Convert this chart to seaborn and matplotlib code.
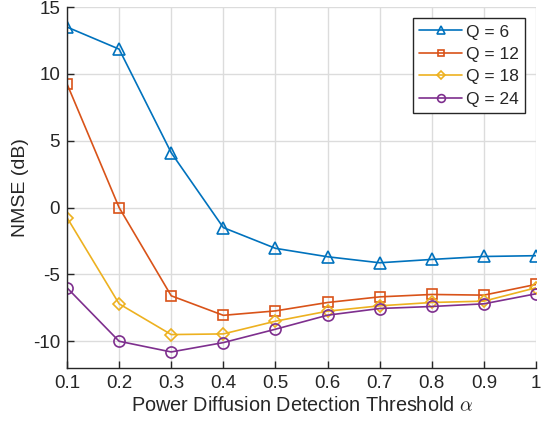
import matplotlib
matplotlib.use("Agg")
import matplotlib.pyplot as plt
import seaborn as sns
import pandas as pd

alpha = [0.1, 0.2, 0.3, 0.4, 0.5, 0.6, 0.7, 0.8, 0.9, 1.0]
q6 = [13.5, 11.85, 4.1, -1.5, -3.05, -3.68, -4.13, -3.88, -3.66, -3.6]
q12 = [9.25, 0.0, -6.6, -8.06, -7.73, -7.1, -6.68, -6.5, -6.55, -5.75]
q18 = [-0.75, -7.2, -9.5, -9.45, -8.5, -7.75, -7.35, -7.1, -7.0, -6.0]
q24 = [-6.0, -10.0, -10.8, -10.1, -9.1, -8.05, -7.55, -7.4, -7.2, -6.45]
labels = ["Q = 6", "Q = 12", "Q = 18", "Q = 24"]
colors = ["#0072BD", "#D95319", "#EDB120", "#7E2F8E"]
markers = ["^", "s", "D", "o"]
xticks = [0.1, 0.2, 0.3, 0.4, 0.5, 0.6, 0.7, 0.8, 0.9, 1.0]
xticklabels = ["0.1", "0.2", "0.3", "0.4", "0.5", "0.6", "0.7", "0.8", "0.9", "1"]
yticks = [-10, -5, 0, 5, 10, 15]

sns.set_theme(style="white")
plt.rcParams['font.family'] = ['Liberation Sans', 'DejaVu Sans']
plt.rcParams['mathtext.fontset'] = 'cm'
plt.rcParams['axes.unicode_minus'] = False

fig = plt.figure(figsize=(5.42, 4.33), dpi=100)
ax = fig.add_axes([67/542, 1-368/433, 469/542, 361/433])

series = [q6, q12, q18, q24]
for vals, lab, col, mk in zip(series, labels, colors, markers):
    df = pd.DataFrame({"alpha": alpha, "nmse": vals})
    ms = 6.5 if mk == "D" else 8
    if mk == "s":
        ms = 7
    sns.lineplot(data=df, x="alpha", y="nmse", ax=ax, color=col, marker=mk,
                 markersize=ms, markerfacecolor="none", markeredgecolor=col,
                 markeredgewidth=1.2, linewidth=1.2, label=lab)

ax.set_xlim(0.1, 1.0)
ax.set_ylim(-12, 15)
ax.set_xticks(xticks)
ax.set_xticklabels(xticklabels)
ax.set_yticks(yticks)
ax.grid(True, color="#dcdcdc", linewidth=1.0)
ax.set_axisbelow(True)
for s in ["top", "right"]:
    ax.spines[s].set_visible(False)
for s in ["left", "bottom"]:
    ax.spines[s].set_color("#262626")
    ax.spines[s].set_linewidth(1.0)
ax.tick_params(axis="both", direction="in", length=5, width=1, color="#262626",
               labelcolor="#262626", labelsize=13.5, bottom=True, left=True, pad=5)
ax.set_xlabel(r"Power Diffusion Detection Threshold $\alpha$", fontsize=14.3, color="#262626", labelpad=3)
ax.set_ylabel("NMSE (dB)", fontsize=14, color="#262626", labelpad=3)

leg = ax.legend(loc="upper right", frameon=True, fancybox=False,
                fontsize=12.5, handlelength=2.5, handletextpad=0.2, borderpad=0.35,
                labelspacing=0.42, borderaxespad=0.65, markerscale=0.7)
leg.get_frame().set_edgecolor("#262626")
leg.get_frame().set_linewidth(1.0)
leg.get_frame().set_alpha(1.0)

fig.savefig("out.png", dpi=100)
